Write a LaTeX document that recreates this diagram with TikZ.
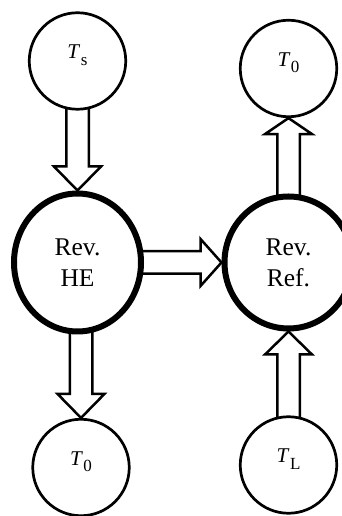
\documentclass[tikz,border=0pt]{standalone}
\usepackage{fontspec}
\setmainfont{Liberation Serif}
\usetikzlibrary{calc,shapes.geometric,backgrounds}
\newcommand{\Tsub}[1]{\textit{T}\kern0.5pt\raisebox{-6.5pt}{\fontsize{17}{17}\selectfont #1}}
\tikzset{
	tiplen/.store in=\tiplen, tiplen=24pt,
	res/.style={circle,draw=black,fill=white,line width=2.7pt,minimum size=96.5pt,inner sep=0pt,
		font=\fontsize{21}{24}\selectfont,text height=14pt,text depth=18pt},
	cyc/.style={ellipse,draw=black,fill=white,line width=6pt,inner sep=0pt,align=center,
		font=\fontsize{25.5}{30.7}\selectfont},
	flow/.style={draw=black,fill=white,line width=2.5pt,line join=miter,
		to path={($(\tikztostart)!11.25pt!90:(\tikztotarget)$)
			-- ($(\tikztotarget)!\tiplen!(\tikztostart)!11.25pt!90:(\tikztotarget)$)
			-- ($(\tikztotarget)!\tiplen!(\tikztostart)!23.5pt!90:(\tikztotarget)$)
			-- (\tikztotarget)
			-- ($(\tikztotarget)!\tiplen!(\tikztostart)!23.5pt!-90:(\tikztotarget)$)
			-- ($(\tikztotarget)!\tiplen!(\tikztostart)!11.25pt!-90:(\tikztotarget)$)
			-- ($(\tikztostart)!11.25pt!-90:(\tikztotarget)$)
			-- cycle}},
}

\begin{document}
\begin{tikzpicture}[x=1pt,y=1pt]
	\useasboundingbox (0,0) rectangle (341,516);
	% reservoirs and cycles
	\node[res] (ts) at (77.5,455) {\Tsub{s}};
	\node[res] (tzt) at (288.5,447.5) {\Tsub{0}};
	\node[cyc,minimum width=127pt,minimum height=138pt] (he) at (77.5,253.5) {Rev.\\HE};
	\node[cyc,minimum width=128pt,minimum height=132pt] (ref) at (288.5,253.5) {Rev.\\Ref.};
	\node[res] (tzb) at (81,48.5) {\Tsub{0}};
	\node[res] (tl) at (288.5,51) {\Tsub{L}};
	% heat and work flows
	\begin{scope}[on background layer]
		\draw[flow] (ts) to (he.north);
		\draw[flow] (tzb |- he) to (tzb.north);
		\draw[flow,tiplen=21pt] (he) to (ref.west);
		\draw[flow,tiplen=23pt] (tl) to (ref.south);
		\draw[flow,tiplen=16pt] (ref) to (tzt.south);
	\end{scope}
\end{tikzpicture}
\end{document}
